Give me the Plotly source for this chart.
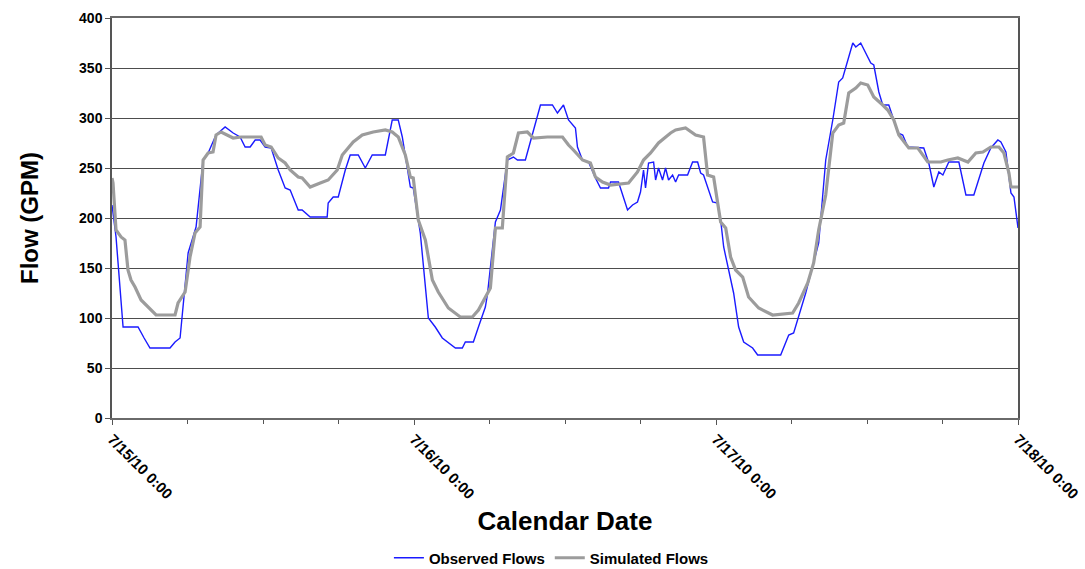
import pandas as pd
import plotly.graph_objects as go

START = pd.Timestamp("2010-07-15 00:00")

# Observed flow record: hours after 7/15/10 0:00 and flow in GPM
obs_hours = [0.0, 0.32, 0.88, 2.07, 2.55, 3.02, 4.61, 5.01, 5.41, 6.05, 6.68, 7.24, 7.64, 8.27,
             8.99, 9.63, 10.18, 10.58, 10.98, 11.38, 11.77, 12.17, 12.65, 13.21, 13.76, 14.16,
             14.80, 15.11, 15.75, 17.10, 17.18, 17.58, 17.98, 18.54, 18.93, 19.57, 20.13, 20.68,
             21.72, 22.27, 22.75, 23.07, 23.71, 23.94, 24.50, 25.14, 25.69, 26.25, 27.29, 27.84,
             28.08, 28.72, 29.12, 29.67, 29.83, 30.47, 30.87, 31.42, 31.90, 32.22, 32.85, 33.49,
             34.05, 35.00, 35.40, 35.88, 36.28, 36.83, 36.99, 37.39, 37.87, 38.42, 38.82, 39.46,
             39.62, 40.25, 40.57, 40.97, 41.37, 41.76, 42.00, 42.24, 42.40, 42.64, 43.04, 43.20,
             43.43, 43.75, 43.99, 44.23, 44.55, 44.79, 45.03, 45.74, 46.14, 46.54, 46.78, 47.01,
             47.73, 48.13, 48.37, 48.61, 49.40, 49.80, 50.20, 50.91, 51.31, 53.14, 53.78, 54.17,
             55.13, 56.16, 56.72, 57.28, 57.75, 58.07, 58.87, 59.11, 59.50, 60.30, 60.54, 60.94,
             61.25, 61.73, 62.13, 62.45, 62.84, 63.24, 64.51, 64.91, 65.31, 65.71, 66.03, 66.50,
             67.30, 67.86, 68.49, 69.29, 69.84, 70.40, 70.64, 71.04, 71.44, 71.68, 72.0]
obs_gpm = [213, 181, 91, 91, 80, 70, 70, 76, 80, 165, 191, 258, 265, 283,
           291, 285, 281, 271, 271, 278, 278, 271, 270, 248, 230, 228,
           208, 208, 201, 201, 215, 221, 221, 248, 263, 263, 250, 263,
           263, 298, 298, 281, 231, 230, 185, 100, 91, 80, 70, 70,
           76, 76, 91, 111, 123, 196, 208, 258, 261, 258, 258, 286,
           313, 313, 305, 313, 298, 290, 271, 258, 256, 240, 230, 230,
           236, 236, 223, 208, 213, 216, 226, 248, 230, 255, 256, 238,
           250, 238, 250, 238, 243, 236, 243, 243, 256, 256, 245, 243,
           216, 215, 198, 171, 125, 91, 76, 70, 63, 63, 83, 85,
           125, 175, 258, 298, 336, 340, 375, 371, 375, 355, 353, 326,
           313, 313, 298, 285, 283, 271, 270, 255, 231, 246, 243, 256,
           256, 223, 223, 255, 270, 278, 276, 266, 225, 221, 190]

# Simulated flow from the model: hours after 7/15/10 0:00 and flow in GPM
sim_hours = [0.0, 0.08, 0.32, 0.72, 1.03, 1.27, 1.51, 1.83, 2.31, 2.86, 3.50, 5.01, 5.25, 5.81,
             6.20, 6.60, 7.00, 7.24, 7.64, 8.03, 8.27, 8.67, 9.23, 9.63, 10.26, 11.85, 12.17,
             12.65, 13.21, 13.76, 14.16, 14.80, 15.11, 15.75, 16.55, 17.18, 17.90, 18.30, 19.17,
             19.89, 20.76, 21.72, 22.27, 22.75, 23.31, 23.71, 23.94, 24.34, 24.90, 25.46, 25.93,
             26.73, 27.68, 28.64, 29.12, 29.67, 30.07, 30.47, 31.02, 31.42, 31.90, 32.30, 33.01,
             33.49, 34.60, 35.80, 36.28, 36.67, 37.39, 38.02, 38.42, 38.98, 39.62, 41.05, 41.76,
             42.24, 42.80, 43.43, 44.39, 44.79, 45.58, 46.38, 47.01, 47.33, 47.81, 48.37, 48.77,
             49.16, 49.56, 50.12, 50.59, 51.39, 52.50, 54.09, 54.57, 55.29, 55.76, 56.16, 56.72,
             57.28, 57.75, 58.15, 58.55, 59.11, 59.50, 60.06, 60.54, 61.25, 61.65, 62.13, 62.53,
             63.32, 64.04, 64.83, 65.87, 66.42, 67.22, 68.02, 68.65, 69.21, 69.84, 70.48, 70.88,
             71.28, 71.44, 72.0]
sim_gpm = [240, 235, 188, 181, 178, 148, 138, 131, 118, 111, 103, 103, 115, 126,
           161, 185, 191, 258, 265, 266, 283, 286, 283, 280, 281, 281, 273,
           271, 260, 255, 248, 241, 240, 231, 235, 238, 248, 263, 276,
           283, 286, 288, 286, 281, 263, 241, 240, 198, 178, 138, 126,
           110, 101, 101, 108, 121, 130, 190, 190, 261, 265, 285, 286,
           280, 281, 281, 273, 268, 258, 255, 241, 236, 233, 235, 246,
           258, 265, 275, 285, 288, 290, 283, 281, 243, 241, 196, 190,
           161, 148, 141, 121, 110, 103, 105, 115, 135, 155, 188, 223,
           285, 293, 295, 325, 330, 335, 333, 321, 313, 308, 298, 283,
           270, 270, 256, 256, 258, 260, 256, 265, 266, 271, 271, 265,
           245, 231, 231]

y_ticks = [0, 50, 100, 150, 200, 250, 300, 350, 400]


def to_time(hours):
    return [START + pd.Timedelta(hours=h) for h in hours]


FONT = "Liberation Sans Narrow, Arial Narrow, Liberation Sans, Arial, sans-serif"
GRID = "#4d4d4d"

fig = go.Figure()
fig.add_trace(go.Scatter(
    x=to_time(obs_hours), y=obs_gpm, mode="lines", name="Observed Flows",
    line=dict(color="#1a1aff", width=1.4),
))
fig.add_trace(go.Scatter(
    x=to_time(sim_hours), y=sim_gpm, mode="lines", name="Simulated Flows",
    line=dict(color="#9c9c9c", width=3.2),
))

fig.update_layout(
    width=1085, height=569,
    margin=dict(l=112, r=67, t=18, b=151, autoexpand=False),
    paper_bgcolor="white", plot_bgcolor="white",
    font=dict(family=FONT, color="black"),
    showlegend=True,
    legend=dict(
        orientation="h", x=0.485, xanchor="center", y=-0.35, yanchor="middle",
        font=dict(size=15, family=FONT, weight="bold"),
        itemwidth=30, bgcolor="rgba(0,0,0,0)",
    ),
)

fig.update_xaxes(
    type="date",
    range=[START, START + pd.Timedelta(days=3)],
    dtick=86400000, tick0=START,
    tickformat="%-m/%-d/%y %-H:%M",
    tickangle=45,
    tickfont=dict(size=15, family=FONT, weight="bold"),
    ticks="outside", ticklen=5, tickcolor="#555555",
    minor=dict(dtick=6 * 3600000, ticks="outside", ticklen=4, tickcolor="#555555"),
    showgrid=False,
    showline=True, linecolor="#6a6a6a", linewidth=1.5, mirror=True,
    title=dict(text="Calendar Date", font=dict(size=26, family=FONT, weight="bold"), standoff=11),
    zeroline=False, automargin=False,
)
fig.update_yaxes(
    range=[0, 400],
    tickvals=y_ticks,
    tickfont=dict(size=14, family=FONT, weight="bold"),
    ticks="outside", ticklen=5, tickcolor="#555555",
    showgrid=True, gridcolor=GRID, gridwidth=1.3,
    showline=True, linecolor="#555555", linewidth=1.5, mirror=True,
    title=dict(text="Flow (GPM)", font=dict(size=24, family=FONT, weight="bold"), standoff=34),
    zeroline=False, automargin=False,
)

fig.write_html("out.html")
